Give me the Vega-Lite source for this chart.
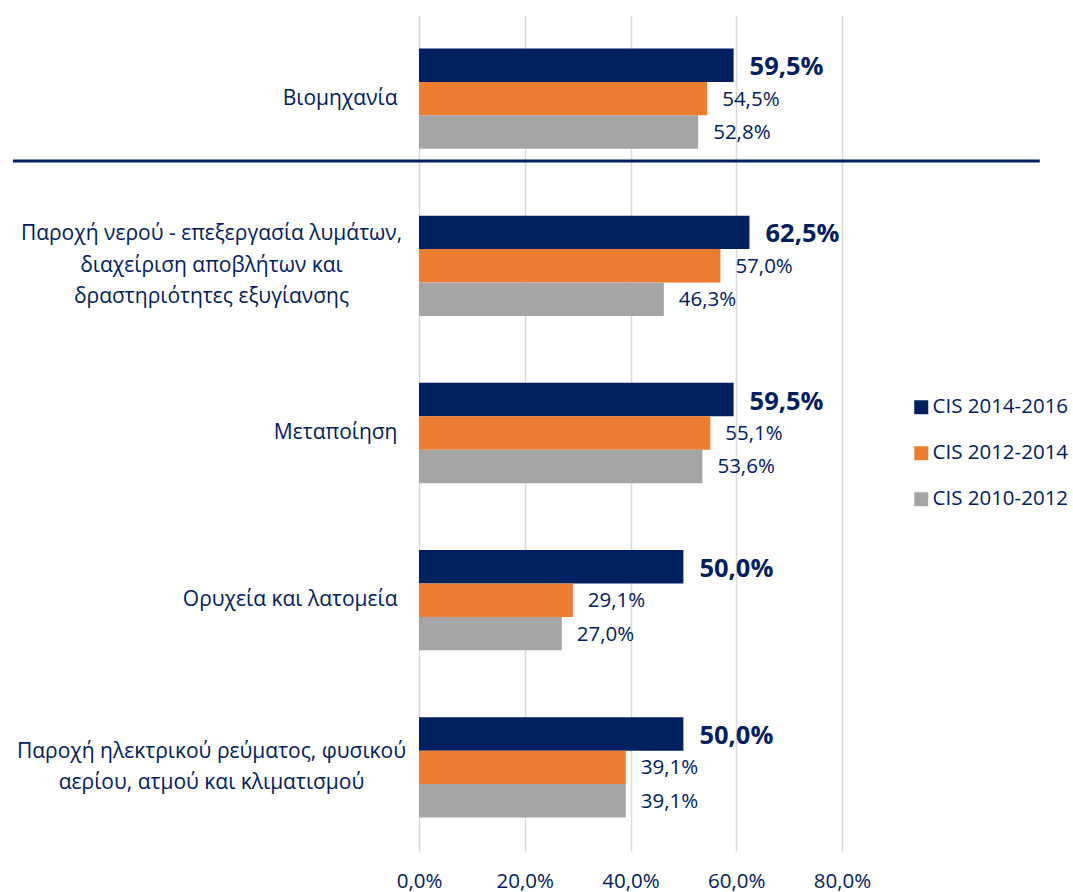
{
  "$schema": "https://vega.github.io/schema/vega-lite/v6.json",
  "autosize": {"type": "none"},
  "padding": {"left": 419, "top": 15, "right": 231, "bottom": 41},
  "width": 423,
  "height": 836,
  "config": {
    "view": {"stroke": null},
    "font": "Open Sans",
    "locale": {"number": {"decimal": ",", "thousands": ".", "grouping": [3], "currency": ["", " €"]}}
  },
  "data": {
    "values": [
      {"sector": "Βιομηχανία", "survey": "CIS 2014-2016", "share": 0.595},
      {"sector": "Βιομηχανία", "survey": "CIS 2012-2014", "share": 0.545},
      {"sector": "Βιομηχανία", "survey": "CIS 2010-2012", "share": 0.528},
      {"sector": "Παροχή νερού - επεξεργασία λυμάτων,\nδιαχείριση αποβλήτων και\nδραστηριότητες εξυγίανσης", "survey": "CIS 2014-2016", "share": 0.625},
      {"sector": "Παροχή νερού - επεξεργασία λυμάτων,\nδιαχείριση αποβλήτων και\nδραστηριότητες εξυγίανσης", "survey": "CIS 2012-2014", "share": 0.570},
      {"sector": "Παροχή νερού - επεξεργασία λυμάτων,\nδιαχείριση αποβλήτων και\nδραστηριότητες εξυγίανσης", "survey": "CIS 2010-2012", "share": 0.463},
      {"sector": "Μεταποίηση", "survey": "CIS 2014-2016", "share": 0.595},
      {"sector": "Μεταποίηση", "survey": "CIS 2012-2014", "share": 0.551},
      {"sector": "Μεταποίηση", "survey": "CIS 2010-2012", "share": 0.536},
      {"sector": "Ορυχεία και λατομεία", "survey": "CIS 2014-2016", "share": 0.500},
      {"sector": "Ορυχεία και λατομεία", "survey": "CIS 2012-2014", "share": 0.291},
      {"sector": "Ορυχεία και λατομεία", "survey": "CIS 2010-2012", "share": 0.270},
      {"sector": "Παροχή ηλεκτρικού ρεύματος, φυσικού\nαερίου, ατμού και κλιματισμού", "survey": "CIS 2014-2016", "share": 0.500},
      {"sector": "Παροχή ηλεκτρικού ρεύματος, φυσικού\nαερίου, ατμού και κλιματισμού", "survey": "CIS 2012-2014", "share": 0.391},
      {"sector": "Παροχή ηλεκτρικού ρεύματος, φυσικού\nαερίου, ατμού και κλιματισμού", "survey": "CIS 2010-2012", "share": 0.391}
    ]
  },
  "encoding": {
    "y": {
      "field": "sector",
      "type": "nominal",
      "sort": null,
      "scale": {"paddingInner": 0, "paddingOuter": 0},
      "axis": {
        "title": null,
        "domain": false,
        "ticks": false,
        "labelFont": "Open Sans",
        "labelFontSize": 21,
        "labelColor": "#002060",
        "labelLimit": 500,
        "labelLineHeight": 31.5,
        "labelExpr": "split(datum.label, '\\n')",
        "labelAlign": {"condition": {"test": "length(datum.value) > 30", "value": "center"}, "value": "right"},
        "labelPadding": {"condition": {"test": "length(datum.value) > 30", "value": 208}, "value": 22},
        "labelOffset": {"condition": [{"test": "length(datum.value) > 70", "value": -31.5}, {"test": "length(datum.value) > 30", "value": -15.5}], "value": 0}
      }
    },
    "x": {
      "field": "share",
      "type": "quantitative",
      "scale": {"domain": [0, 0.8], "nice": false},
      "axis": {
        "title": null,
        "format": ".1%",
        "values": [0, 0.2, 0.4, 0.6, 0.8],
        "domain": false,
        "ticks": false,
        "grid": true,
        "gridColor": "#D9D9D9",
        "gridWidth": 1.5,
        "labelFont": "Open Sans",
        "labelFontSize": 20.5,
        "labelColor": "#002060",
        "labelPadding": 20,
        "labelFlush": false
      }
    }
  },
  "layer": [
    {
      "mark": {"type": "bar"},
      "encoding": {
        "yOffset": {
          "field": "survey",
          "type": "nominal",
          "sort": ["CIS 2014-2016", "CIS 2012-2014", "CIS 2010-2012"],
          "scale": {"paddingInner": 0, "paddingOuter": 1.1}
        },
        "color": {
          "field": "survey",
          "type": "nominal",
          "sort": ["CIS 2014-2016", "CIS 2012-2014", "CIS 2010-2012"],
          "scale": {"domain": ["CIS 2014-2016", "CIS 2012-2014", "CIS 2010-2012"], "range": ["#002060", "#ED7D31", "#A5A5A5"]},
          "legend": {
            "title": null,
            "orient": "none",
            "legendX": 492,
            "legendY": 382,
            "symbolType": "square",
            "symbolSize": 196,
            "symbolStrokeWidth": 0,
            "labelFont": "Open Sans",
            "labelFontSize": 20.5,
            "labelColor": "#002060",
            "labelOffset": 1,
            "rowPadding": 25,
            "padding": 0
          }
        }
      }
    },
    {
      "transform": [{"filter": "datum.survey === 'CIS 2014-2016'"}],
      "mark": {"type": "text", "align": "left", "baseline": "middle", "dx": 16, "dy": 2, "fontSize": 25.5, "fontWeight": "bold", "color": "#002060", "font": "Open Sans"},
      "encoding": {
        "yOffset": {
          "field": "survey",
          "type": "nominal",
          "sort": ["CIS 2014-2016", "CIS 2012-2014", "CIS 2010-2012"],
          "scale": {"domain": ["CIS 2014-2016", "CIS 2012-2014", "CIS 2010-2012"], "paddingInner": 0, "paddingOuter": 1.1}
        },
        "text": {"field": "share", "type": "quantitative", "format": ".1%"}
      }
    },
    {
      "transform": [{"filter": "datum.survey !== 'CIS 2014-2016'"}],
      "mark": {"type": "text", "align": "left", "baseline": "middle", "dx": 15, "dy": 1, "fontSize": 20.5, "color": "#002060", "font": "Open Sans"},
      "encoding": {
        "yOffset": {
          "field": "survey",
          "type": "nominal",
          "sort": ["CIS 2014-2016", "CIS 2012-2014", "CIS 2010-2012"],
          "scale": {"domain": ["CIS 2014-2016", "CIS 2012-2014", "CIS 2010-2012"], "paddingInner": 0, "paddingOuter": 1.1}
        },
        "text": {"field": "share", "type": "quantitative", "format": ".1%"}
      }
    },
    {
      "transform": [{"filter": "datum.sector === 'Βιομηχανία' && datum.survey === 'CIS 2014-2016'"}],
      "mark": {"type": "rule", "color": "#002060", "strokeWidth": 3},
      "encoding": {
        "x": {"datum": -0.768},
        "x2": {"datum": 1.174},
        "y": {"field": "sector", "type": "nominal", "bandPosition": 0.873}
      }
    }
  ]
}
